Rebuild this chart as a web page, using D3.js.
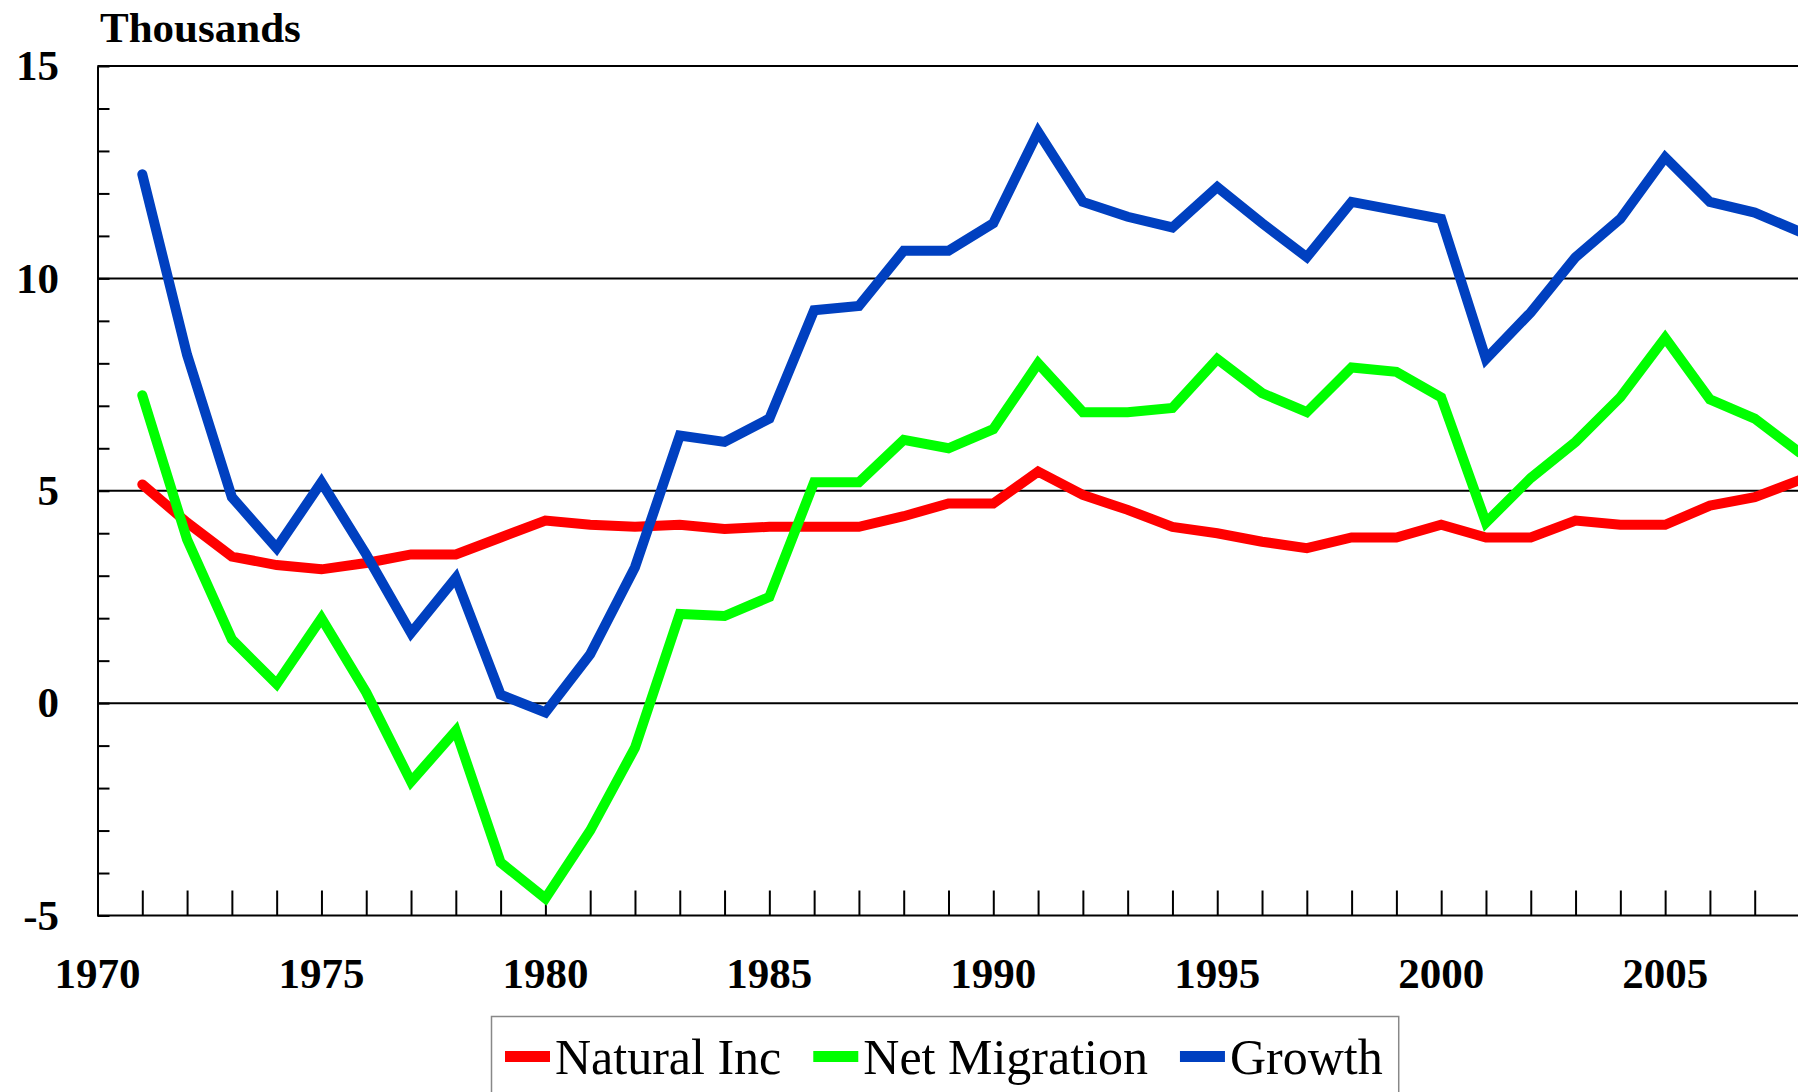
<!DOCTYPE html>
<html>
<head>
<meta charset="utf-8">
<script src="https://cdn.jsdelivr.net/npm/d3@7.8.5/dist/d3.min.js"></script>
<style>
  html, body { margin: 0; padding: 0; background: #fff; }
  svg { display: block; font-family: "Liberation Serif", "Times New Roman", serif; }
</style>
</head>
<body>
<svg id="chart" width="1798" height="1092"></svg>
<script>
// Data (thousands)
const years = d3.range(1971, 2009);
const naturalInc = [5.15, 4.25, 3.45, 3.25, 3.15, 3.3, 3.5, 3.5, 3.9, 4.3,
  4.2, 4.15, 4.2, 4.1, 4.15, 4.15, 4.15, 4.4, 4.7, 4.7,
  5.45, 4.9, 4.55, 4.15, 4.0, 3.8, 3.65, 3.9, 3.9, 4.2,
  3.9, 3.9, 4.3, 4.2, 4.2, 4.65, 4.85, 5.25];
const netMigration = [7.25, 3.85, 1.5, 0.45, 2.0, 0.25, -1.85, -0.65, -3.75, -4.6,
  -3.0, -1.05, 2.1, 2.05, 2.5, 5.2, 5.2, 6.2, 6.0, 6.45,
  8.0, 6.85, 6.85, 6.95, 8.1, 7.3, 6.85, 7.9, 7.8, 7.2,
  4.25, 5.3, 6.15, 7.2, 8.6, 7.15, 6.7, 5.9];
const growth = [12.45, 8.2, 4.85, 3.65, 5.2, 3.5, 1.65, 2.95, 0.2, -0.22,
  1.15, 3.2, 6.3, 6.15, 6.7, 9.25, 9.35, 10.65, 10.65, 11.3,
  13.45, 11.8, 11.45, 11.2, 12.15, 11.3, 10.5, 11.8, 11.6, 11.4,
  8.1, 9.2, 10.5, 11.4, 12.85, 11.8, 11.55, 11.1];

const seriesNames = ['Natural Inc', 'Net Migration', 'Growth'];
const seriesColors = ['#ff0000', '#00ff00', '#0040c0'];
const seriesValues = [naturalInc, netMigration, growth];

const yTicks = d3.range(-5, 16);
const yGrid = [0, 5, 10, 15];
const xLabelYears = [1970, 1975, 1980, 1985, 1990, 1995, 2000, 2005];

const svg = d3.select('#chart');
const margin = { left: 97.5, top: 66, bottom: 915.5 };

const x = d3.scaleLinear().domain([1970, 2008]).range([margin.left, 1799.5]);
const y = d3.scaleLinear().domain([-5, 15]).range([margin.bottom, margin.top]);

// Unit label
svg.append('text')
  .attr('x', 100)
  .attr('y', 42)
  .style('font-size', '43px')
  .style('font-weight', 'bold')
  .text('Thousands');

// Horizontal grid lines (including the top border)
svg.append('g')
  .selectAll('line')
  .data(yGrid)
  .join('line')
  .attr('x1', margin.left)
  .attr('x2', x(2011))
  .attr('y1', d => y(d))
  .attr('y2', d => y(d))
  .attr('stroke', '#000')
  .attr('stroke-width', 2);

// Y axis: minor ticks inward, labels every 5
const yAxis = d3.axisLeft(y)
  .tickValues(yTicks)
  .tickSizeInner(-12)
  .tickSizeOuter(0)
  .tickPadding(38.5)
  .tickFormat(d => d % 5 === 0 ? String(d) : '');

const yg = svg.append('g')
  .attr('transform', `translate(${margin.left},0)`)
  .call(yAxis);
yg.select('.domain').attr('stroke', '#000').attr('stroke-width', 2);
yg.selectAll('.tick line').attr('stroke', '#000').attr('stroke-width', 2);
yg.selectAll('.tick text')
  .attr('fill', '#000')
  .style('font-size', '43px')
  .style('font-weight', 'bold')
  .style('font-family', '"Liberation Serif", "Times New Roman", serif');

// X axis: a tick for every year, pointing up into the plot
const xAxis = d3.axisBottom(x)
  .tickValues(d3.range(1970, 2011))
  .tickSizeInner(-25)
  .tickSizeOuter(0)
  .tickFormat('');

const xg = svg.append('g')
  .attr('transform', `translate(0,${margin.bottom})`)
  .call(xAxis);
xg.select('.domain')
  .attr('d', `M${margin.left},0H${x(2011)}`)
  .attr('stroke', '#000').attr('stroke-width', 2);
xg.selectAll('.tick line').attr('stroke', '#000').attr('stroke-width', 2);

// Year labels every five years
svg.append('g')
  .selectAll('text')
  .data(xLabelYears)
  .join('text')
  .attr('x', d => x(d))
  .attr('y', 988)
  .attr('text-anchor', 'middle')
  .style('font-size', '43px')
  .style('font-weight', 'bold')
  .text(d => d);

// Series lines
const line = d3.line()
  .x((d, i) => x(years[i]))
  .y(d => y(d));

svg.append('g')
  .selectAll('path')
  .data(seriesValues)
  .join('path')
  .attr('d', d => line(d))
  .attr('fill', 'none')
  .attr('stroke', (d, i) => seriesColors[i])
  .attr('stroke-width', 10)
  .attr('stroke-linejoin', 'miter')
  .attr('stroke-miterlimit', 3)
  .attr('stroke-linecap', 'round');

// Legend
const legend = svg.append('g');
const legendBox = legend.append('rect')
  .attr('x', 491.5)
  .attr('y', 1016.5)
  .attr('height', 100)
  .attr('fill', '#fff')
  .attr('stroke', '#888')
  .attr('stroke-width', 1.5);

let lx = 505;
seriesNames.forEach((name, i) => {
  legend.append('rect')
    .attr('x', lx)
    .attr('y', 1051)
    .attr('width', 45)
    .attr('height', 11)
    .attr('fill', seriesColors[i]);
  const t = legend.append('text')
    .attr('x', lx + 50)
    .attr('y', 1074)
    .style('font-size', '50px')
    .text(name);
  lx += 50 + t.node().getComputedTextLength() + 32;
});
legendBox.attr('width', lx - 32 + 16 - 491.5);
</script>
</body>
</html>
